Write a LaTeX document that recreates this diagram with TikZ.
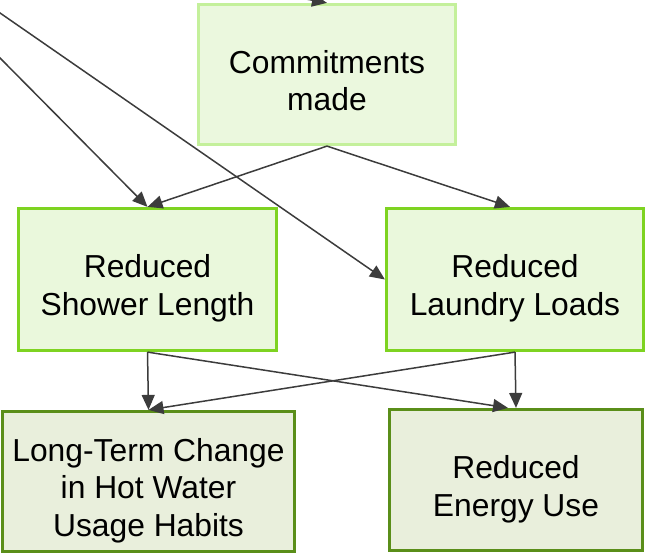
\documentclass[tikz,border=0pt]{standalone}
\usepackage{fontspec}
\setmainfont{Liberation Sans}
\usetikzlibrary{arrows.meta}
\definecolor{topborder}{RGB}{196,240,155}
\definecolor{topfill}{RGB}{235,248,222}
\definecolor{midborder}{RGB}{126,211,33}
\definecolor{midfill}{RGB}{234,248,220}
\definecolor{botborder}{RGB}{90,142,25}
\definecolor{botfill}{RGB}{233,239,220}
\definecolor{edgegray}{RGB}{60,60,60}
\tikzset{
  boxbase/.style={rectangle, line width=3.2pt, inner sep=0pt},
  topbox/.style={boxbase, draw=topborder, fill=topfill},
  midbox/.style={boxbase, draw=midborder, fill=midfill},
  botbox/.style={boxbase, draw=botborder, fill=botfill},
  label text/.style={align=center, inner sep=0pt, font=\fontsize{31.8pt}{37.5pt}\selectfont},
  edge/.style={draw=edgegray, line width=1.5pt, -{Triangle[length=15pt,width=13pt]}}
}
\begin{document}
\begin{tikzpicture}[x=1pt,y=-1pt]
\useasboundingbox (0,0) rectangle (646,556);
\clip (0,0) rectangle (646,556);
% boxes
\node[topbox, minimum width=257pt, minimum height=140pt] (commit) at (327,74.5) {};
\node[midbox, minimum width=258pt, minimum height=142pt] (shower) at (147.5,279.5) {};
\node[midbox, minimum width=257pt, minimum height=142pt] (laundry) at (515,279.5) {};
\node[botbox, minimum width=292pt, minimum height=140pt] (habits) at (148.5,481.5) {};
\node[botbox, minimum width=253pt, minimum height=141pt] (energy) at (516,480) {};
% texts
\node[label text, yshift=-6pt] (tcommit) at (commit.center) {Commitments\\made};
\node[label text, yshift=-9pt] (tshower) at (shower.center) {Reduced\\Shower Length};
\node[label text, yshift=-9pt] (tlaundry) at (laundry.center) {Reduced\\Laundry Loads};
\node[label text, yshift=-9pt] (thabits) at (habits.center) {Long-Term Change\\in Hot Water\\Usage Habits};
\node[label text, yshift=-9.5pt] (tenergy) at (energy.center) {Reduced\\Energy Use};
% free ends of incoming edges from outside the frame
\coordinate (ex1) at (-30,-7.8);
\coordinate (ex2) at (-20,37.8);
\coordinate (ex3) at (150,-30);
% edges
\draw[edge] (ex1) -- (laundry.west);
\draw[edge] (ex2) -- (shower.north);
\draw[edge] (ex3) -- (commit.north);
\draw[edge] (commit.south) -- (shower.north);
\draw[edge] (commit.south) -- ([xshift=-5pt]laundry.north);
\draw[edge] (shower.south) -- (habits.north);
\draw[edge] (shower.south) -- ([xshift=-8pt]energy.north);
\draw[edge] (laundry.south) -- (habits.north);
\draw[edge] (laundry.south) -- (energy.north);
\end{tikzpicture}
\end{document}
